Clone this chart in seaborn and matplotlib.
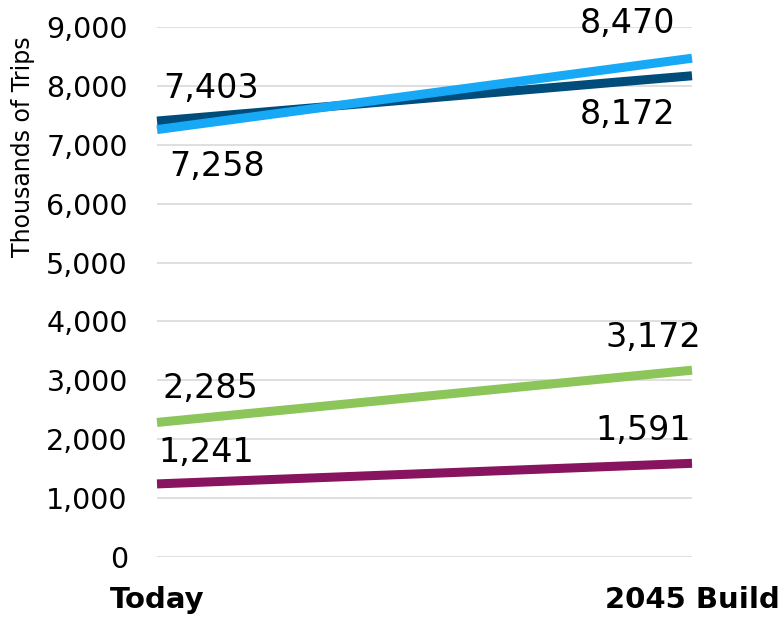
import seaborn as sns
import matplotlib.pyplot as plt
import matplotlib.ticker as mticker
import pandas as pd

sns.set_style("white")
plt.rcParams['font.family'] = ['DejaVu Sans']
plt.rcParams['text.color'] = 'black'
plt.rcParams['xtick.color'] = 'black'
plt.rcParams['ytick.color'] = 'black'
plt.rcParams['axes.labelcolor'] = 'black'

# Data
periods = ["Today", "2045 Build"]
series_a = [7403, 8172]   # dark navy
series_b = [7258, 8470]   # light blue
series_c = [2285, 3172]   # green
series_d = [1241, 1591]   # purple
names = ["A", "B", "C", "D"]
colors = ["#004C7A", "#17A9F5", "#8CC65A", "#88145F"]

# label offsets in pixels (start label, end label)
offsets = {
    "A": [(54, 33), (-64, -39)],
    "B": [(60, -37), (-64, 35)],
    "C": [(53, 34), (-39, 33)],
    "D": [(49, 31), (-49, 33)],
}

rows = []
for name, vals in zip(names, [series_a, series_b, series_c, series_d]):
    for p, v in zip(periods, vals):
        rows.append({"Period": p, "Trips": v, "Series": name})
df = pd.DataFrame(rows)

fig = plt.figure(figsize=(7.81, 6.21), dpi=100)
ax = fig.add_axes([157 / 781, 1 - 557 / 621, (692 - 157) / 781, (557 - 27) / 621])

sns.lineplot(data=df, x="Period", y="Trips", hue="Series", hue_order=names,
             palette=colors, linewidth=6.5, legend=False, ax=ax, sort=False)
for line in ax.lines:
    line.set_clip_on(False)
    line.set_solid_capstyle("butt")

ax.set_xlim(0, 1)
ax.set_ylim(0, 9000)
ax.yaxis.set_major_locator(mticker.MultipleLocator(1000))
ax.yaxis.set_major_formatter(mticker.FuncFormatter(lambda v, _: f"{int(v):,}"))
ax.grid(axis="y", color="#D9D9D9", linewidth=1.2)
ax.set_axisbelow(True)
for s in ax.spines.values():
    s.set_visible(False)

ax.tick_params(axis="y", length=0, labelsize=20.5, pad=21)
ax.tick_params(axis="x", length=0, labelsize=21, pad=21)
for t in ax.get_xticklabels():
    t.set_fontweight("bold")

ax.set_xlabel("")
ax.set_ylabel("Thousands of Trips", fontsize=17)
ax.yaxis.set_label_coords(-0.228, 0.775)

for name, vals in zip(names, [series_a, series_b, series_c, series_d]):
    for i, v in enumerate(vals):
        dx, dy = offsets[name][i]
        ax.annotate(f"{v:,}", (i, v), xytext=(dx, dy), textcoords="offset pixels",
                    ha="center", va="center", fontsize=24, annotation_clip=False)

fig.savefig("out.png", dpi=100)
